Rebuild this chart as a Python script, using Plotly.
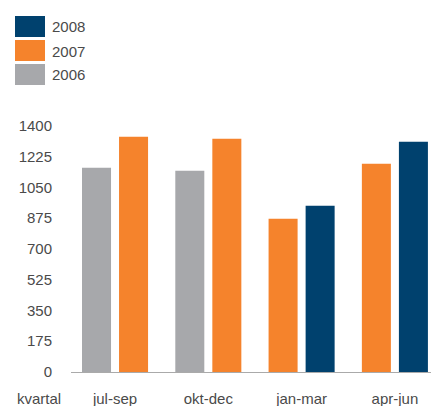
import plotly.graph_objects as go

quarters = ["jul-sep", "okt-dec", "jan-mar", "apr-jun"]
v2006 = [1161, 1144, None, None]
v2007 = [1337, 1326, 871, 1184]
v2008 = [None, None, 945, 1309]
yticks = [0, 175, 350, 525, 700, 875, 1050, 1225, 1400]
legend_years = ["2008", "2007", "2006"]

colors = {"2006": "#A7A8AB", "2007": "#F5832C", "2008": "#00416E"}
series = {"2006": v2006, "2007": v2007, "2008": v2008}

W, H = 431, 406
BW = 0.311
LEFT_OFF, RIGHT_OFF = -0.354, 0.043
TXT = "#4A4A4A"

def px(x):
    return x / W

def py(y):
    return 1 - y / H

fig = go.Figure()
for yr in ["2006", "2007", "2008"]:
    offs = []
    for i in range(len(quarters)):
        present = [y for y in ["2006", "2007", "2008"] if series[y][i] is not None]
        if yr in present:
            offs.append(LEFT_OFF if present.index(yr) == 0 else RIGHT_OFF)
        else:
            offs.append(0)
    fig.add_trace(go.Bar(
        x=quarters, y=series[yr], name=yr,
        marker=dict(color=colors[yr], line=dict(width=0)),
        width=[BW] * len(quarters), offset=offs, showlegend=False,
    ))

shapes = []
annotations = []
for k, yr in enumerate(legend_years):
    top = 16 + 24 * k
    shapes.append(dict(type="rect", xref="paper", yref="paper",
                       x0=px(15), x1=px(45), y0=py(top + 21), y1=py(top),
                       fillcolor=colors[yr], line=dict(width=0)))
    annotations.append(dict(text=yr, xref="paper", yref="paper",
                            x=px(50), y=py(top + 11), xanchor="left", yanchor="middle",
                            showarrow=False, font=dict(size=15, color=TXT)))

annotations.append(dict(text="kvartal", xref="paper", yref="paper",
                        x=px(15), y=py(398), xanchor="left", yanchor="middle",
                        showarrow=False, font=dict(size=15, color=TXT)))

fig.update_layout(
    width=W, height=H,
    margin=dict(l=0, r=0, t=0, b=0),
    paper_bgcolor="white", plot_bgcolor="white",
    barmode="overlay",
    font=dict(family="Liberation Sans, Arial, sans-serif", size=15, color=TXT),
    shapes=shapes, annotations=annotations,
    xaxis=dict(domain=[px(71), 1], range=[-0.472, 3.387], type="category",
               showgrid=False, zeroline=False, showline=True, linecolor="#AAAAAA",
               linewidth=1, ticks="", ticklabelstandoff=13, automargin=False,
               tickfont=dict(size=15, color=TXT)),
    yaxis=dict(domain=[py(372), py(125.7)], range=[0, 1400],
               tickvals=yticks, ticktext=[str(t) for t in yticks],
               showgrid=False, zeroline=False, showline=False, ticks="",
               ticklabelstandoff=18, automargin=False,
               tickfont=dict(size=15, color=TXT)),
)

fig.write_html("out.html", config={"displayModeBar": False},
               post_script="document.body.style.margin='0';document.body.style.overflow='hidden';")
